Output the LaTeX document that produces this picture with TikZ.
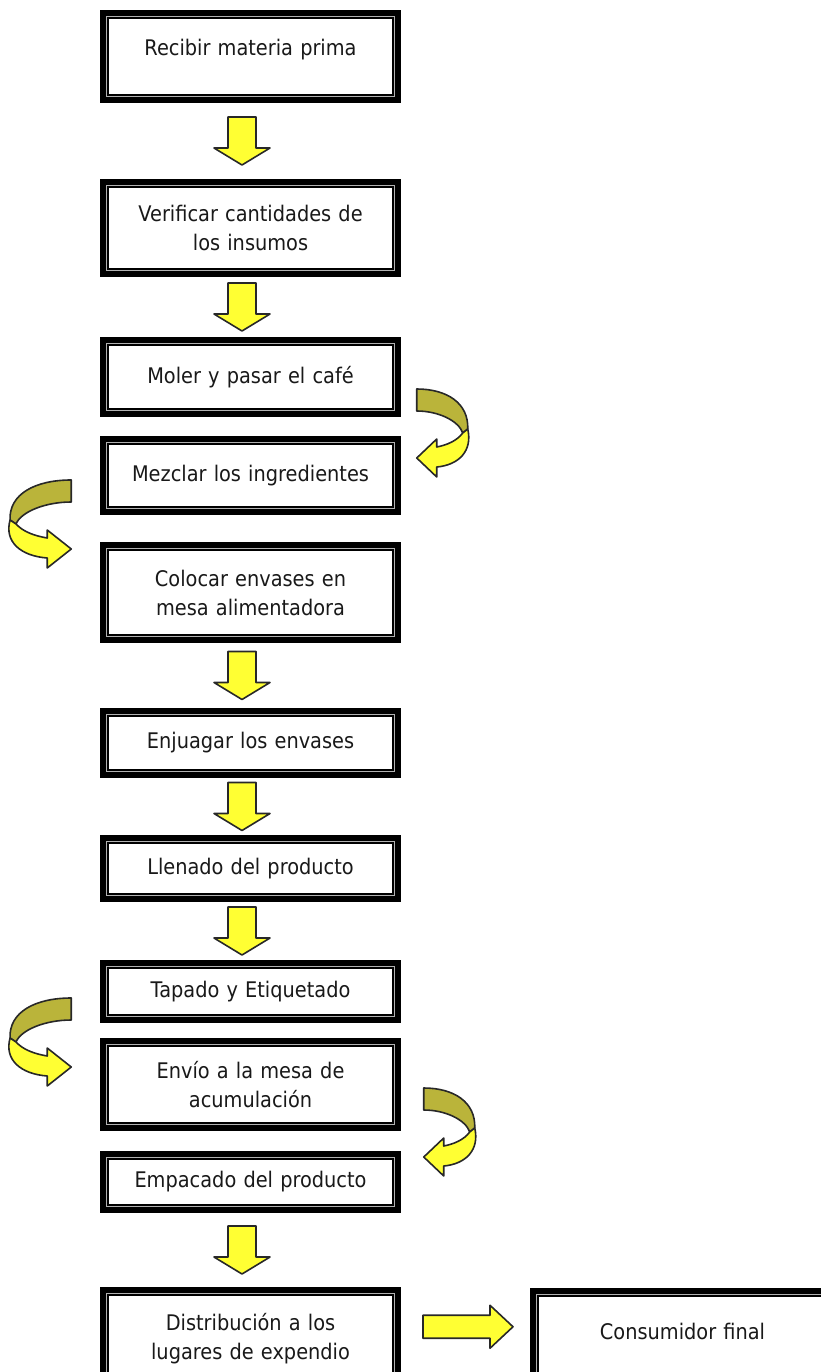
\documentclass[tikz,border=0pt]{standalone}
\usepackage{fontspec}
\setmainfont{DejaVu Sans}[FakeStretch=0.9]
\usetikzlibrary{calc}
\definecolor{amarillo}{RGB}{255,255,51}
\definecolor{oliva}{RGB}{186,180,58}
\definecolor{borde}{RGB}{40,40,40}
\definecolor{texto}{RGB}{25,25,25}
\tikzset{
  caja/.style={draw=black, line width=8.5pt, fill=white, minimum width=293pt,
    text width=280pt, align=center, inner sep=0pt, text=texto,
    font=\fontsize{21.5}{29}\selectfont},
  flechaest/.style={draw=borde, line width=1.6pt, fill=amarillo, line join=round},
  curvaest/.style={draw=borde, line width=1.6pt, line join=round},
  curvader/.pic={
    \draw[curvaest, fill=oliva] (0,0) .. controls (30,0) and (52,14) .. (51,40)
      -- (46,44) .. controls (42,32) and (22,22) .. (0,22) -- cycle;
    \draw[curvaest, fill=amarillo] (46,44) .. controls (40,52) and (30,56) .. (20,58)
      -- (20,50) -- (0,69) -- (20,88) -- (20,78)
      .. controls (42,76) and (56,62) .. (51,40) -- cycle;
  }
}
% flecha de bloque hacia abajo entre dos cajas
\newcommand\flecha[2]{%
  \draw[flechaest] ($(#1.south)!.5!(#2.north)+(-8.5,-24)$) -- ++(-14,0) -- ++(0,31)
    -- ++(-14,0) -- ++(28,17) -- ++(28,-17) -- ++(-14,0) -- ++(0,-31) -- cycle;}
\begin{document}
\begin{tikzpicture}[x=1pt, y=-1pt]
  \useasboundingbox (0,0) rectangle (820,1372);
  \node[caja, minimum height=85pt, text depth=19pt] (b1) at (250.5,56.5) {Recibir materia prima};
  \node[caja, minimum height=90pt] (b2) at (250.5,228) {Verificar cantidades de\\los insumos};
  \node[caja, minimum height=72pt] (b3) at (250.5,377) {Moler y pasar el café};
  \node[caja, minimum height=71pt] (b4) at (250.5,475.5) {Mezclar los ingredientes};
  \node[caja, minimum height=93pt] (b5) at (250.5,592.5) {Colocar envases en\\mesa alimentadora};
  \node[caja, minimum height=62pt] (b6) at (250.5,743) {Enjuagar los envases};
  \node[caja, minimum height=59pt] (b7) at (250.5,868.5) {Llenado del producto};
  \node[caja, minimum height=55pt] (b8) at (250.5,991.5) {Tapado y Etiquetado};
  \node[caja, minimum height=85pt] (b9) at (250.5,1084.5) {Envío a la mesa de\\acumulación};
  \node[caja, minimum height=54pt] (b10) at (250.5,1182) {Empacado del producto};
  \node[caja, minimum height=95pt] (b11) at (250.5,1338.5) {Distribución a los\\lugares de expendio};
  \node[caja, minimum height=94pt, minimum width=297pt, text depth=16pt] (b12) at (682.5,1339) {Consumidor final};
  % lineas interiores
  \foreach \n in {b1,b2,b3,b4,b5,b6,b7,b8,b9,b10,b11,b12}{
    \draw[gray!60, line width=1.2pt] ([shift={(6.5,6.5)}]\n.north west) rectangle ([shift={(-6.5,-6.5)}]\n.south east);
    \draw[black, line width=1.3pt] ([shift={(8.5,8.5)}]\n.north west) rectangle ([shift={(-8.5,-8.5)}]\n.south east);
  }
  \flecha{b1}{b2}
  \flecha{b2}{b3}
  \flecha{b5}{b6}
  \flecha{b6}{b7}
  \flecha{b7}{b8}
  \flecha{b10}{b11}
  \draw[flechaest] ($(b11.east)!.5!(b12.west)+(-42.5,-12)$) -- ++(0,-11.5) -- ++(67,0)
    -- ++(0,-10) -- ++(23,21.5) -- ++(-23,21.5) -- ++(0,-10) -- ++(-67,0) -- cycle;
  % flechas curvas
  \pic at ($(b3.south east)!.5!(b4.north east)+(15.5,-37.5)$) {curvader};
  \pic[xscale=-1.2] at ($(b4.south west)!.5!(b5.north west)+(-28.5,-48.5)$) {curvader};
  \pic[xscale=-1.2] at ($(b8.south west)!.5!(b9.north west)+(-28.5,-32.5)$) {curvader};
  \pic at ($(b9.south east)!.5!(b10.north east)+(22.5,-53)$) {curvader};
\end{tikzpicture}
\end{document}
